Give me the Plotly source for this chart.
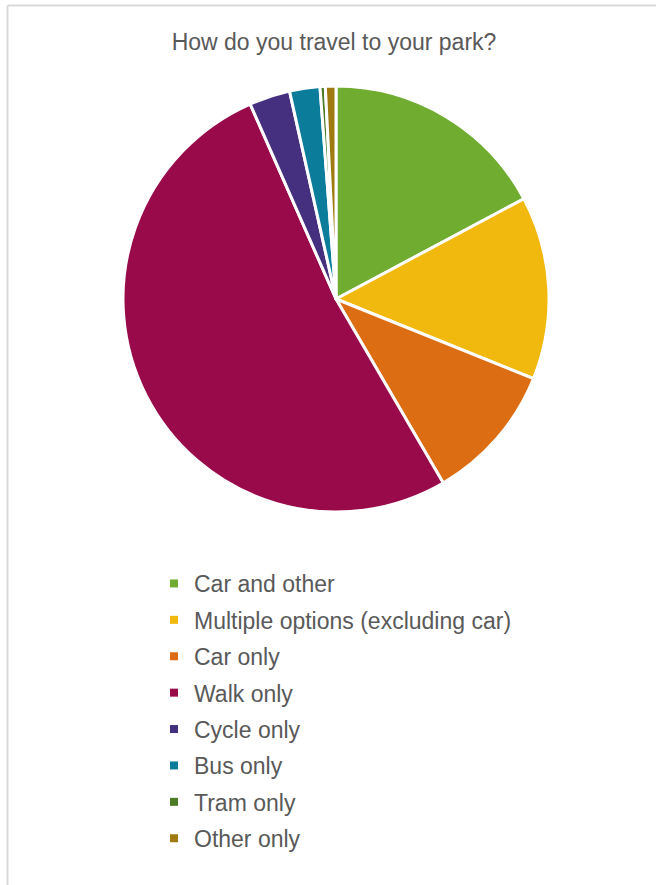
import plotly.graph_objects as go

# Survey responses: how visitors travel to their park (share of respondents, %)
modes = [
    "Car and other",
    "Multiple options (excluding car)",
    "Car only",
    "Walk only",
    "Cycle only",
    "Bus only",
    "Tram only",
    "Other only",
]
shares = [17.2, 13.9, 10.5, 51.8, 3.1, 2.3, 0.4, 0.8]
colors = [
    "#6FAC2F",
    "#F1B90E",
    "#DD6D13",
    "#990A4B",
    "#45307F",
    "#0C7C9B",
    "#4E7B26",
    "#9E7A10",
]

W, H = 656, 885
TEXT = "#595959"

fig = go.Figure()

fig.add_trace(go.Pie(
    labels=modes,
    values=shares,
    sort=False,
    direction="clockwise",
    rotation=0,
    marker=dict(colors=colors, line=dict(color="white", width=3)),
    textinfo="none",
    showlegend=False,
    domain=dict(x=[123 / W, 549 / W], y=[1 - 512 / H, 1 - 86 / H]),
))

# Legend entries: one per travel mode, each in its own group so the gap can be set
for i, (m, c) in enumerate(zip(modes, colors)):
    fig.add_trace(go.Scatter(
        x=[None], y=[None], mode="markers", name=m,
        marker=dict(symbol="square", size=8, color=c),
        legendgroup=f"g{i}", showlegend=True, hoverinfo="skip",
    ))

fig.update_layout(
    width=W, height=H,
    margin=dict(l=0, r=0, t=0, b=0),
    paper_bgcolor="white", plot_bgcolor="white",
    font=dict(family="Liberation Sans, Arial, sans-serif", color=TEXT),
    title=dict(
        text="How do you travel to your park?",
        x=334 / W, xanchor="center",
        y=1 - 42 / H, yanchor="middle",
        font=dict(size=23, color=TEXT),
    ),
    xaxis=dict(visible=False), yaxis=dict(visible=False),
    legend=dict(
        x=154 / W, xanchor="left",
        y=1 - 562 / H, yanchor="top",
        font=dict(size=23, color=TEXT),
        tracegroupgap=3.5,
        bgcolor="rgba(0,0,0,0)",
    ),
    shapes=[
        dict(type="line", xref="paper", yref="paper",
             x0=7.5 / W, x1=1, y0=1 - 5.5 / H, y1=1 - 5.5 / H,
             line=dict(color="#D9D9D9", width=2)),
        dict(type="line", xref="paper", yref="paper",
             x0=7.5 / W, x1=7.5 / W, y0=0, y1=1 - 5.5 / H,
             line=dict(color="#D9D9D9", width=2)),
    ],
)

fig.write_html("out.html")
